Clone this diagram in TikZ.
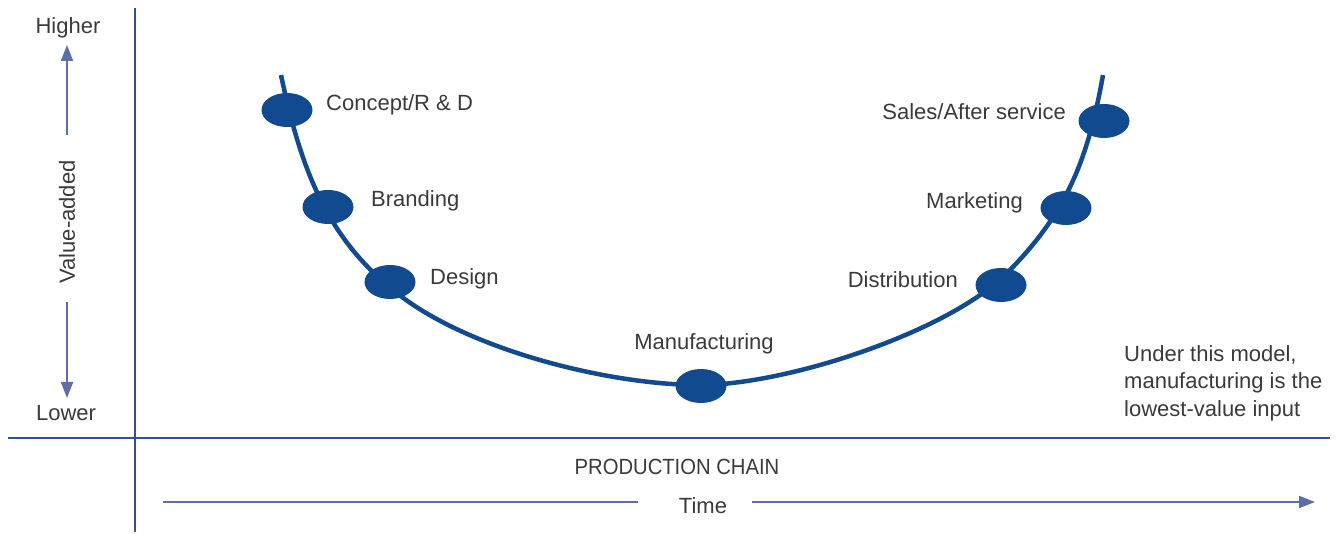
\documentclass[tikz,border=0pt]{standalone}
\usepackage{fontspec}
\setmainfont{Liberation Sans}
\usetikzlibrary{shapes.geometric,arrows.meta}
\definecolor{axisblue}{HTML}{2A5396}
\definecolor{curveblue}{HTML}{124A8F}
\definecolor{arrowblue}{HTML}{5C6FA6}
\definecolor{labelgray}{HTML}{3A3A3A}
\begin{document}
\begin{tikzpicture}[x=1pt,y=-1pt,
  axis/.style={draw=axisblue,line width=1.8pt},
  guide/.style={draw=arrowblue,line width=1.8pt},
  guidetip/.style={-{Triangle[length=16pt,width=12pt]}},
  stage/.style={ellipse,fill=curveblue,minimum width=51pt,minimum height=34pt,inner sep=0pt},
  lbl/.style={text=labelgray,inner sep=0pt,font=\fontsize{22}{27.5}\selectfont}]
\useasboundingbox (0,0) rectangle (1344,534);

% axes
\coordinate (vtop) at (135,8);
\coordinate (vbot) at (135,532);
\coordinate (hl) at (8,438);
\coordinate (hr) at (1330,438);
\draw[axis] (vtop) -- (vbot);
\draw[axis] (hl) -- (hr);

% value-added scale
\node[lbl] (hi) at (68,28) {Higher};
\node[lbl] (lo) at (66,413) {Lower};
\node[lbl,rotate=90] (va) at (67,222) {Value-added};
\coordinate (upstart) at (67,135);
\coordinate (uptip) at (67,45);
\coordinate (dnstart) at (67,302);
\coordinate (dntip) at (67,398);
\draw[guide,guidetip] (upstart) -- (uptip);
\draw[guide,guidetip] (dnstart) -- (dntip);

% the smile curve
\coordinate (cstart) at (281,75);
\coordinate (cleft) at (402,297);
\coordinate (cbottom) at (700,385);
\coordinate (cright) at (1007,273);
\coordinate (cend) at (1103,75);
\draw[curveblue,line width=4.5pt]
  (cstart) .. controls (302,175) and (330,243) .. (cleft)
           .. controls (474,351) and (610,385) .. (cbottom)
           .. controls (785,385) and (947,333) .. (cright)
           .. controls (1067,213) and (1088,159) .. (cend);

% stages along the curve
\node[stage] (rd) at (287,110) {};
\node[stage] (br) at (328,207) {};
\node[stage] (de) at (390,282) {};
\node[stage] (mf) at (701,386) {};
\node[stage] (di) at (1001,285) {};
\node[stage] (mk) at (1066,208) {};
\node[stage] (sa) at (1104,121) {};

% stage labels
\node[lbl,anchor=mid west] (rdl) at (326,108) {Concept/R \& D};
\node[lbl,anchor=mid west] (brl) at (371,204) {Branding};
\node[lbl,anchor=mid west] (del) at (430,282) {Design};
\node[lbl,anchor=mid] (mfl) at (704,347) {Manufacturing};
\node[lbl,anchor=mid east] (dil) at (958,285) {Distribution};
\node[lbl,anchor=mid east] (mkl) at (1023,206) {Marketing};
\node[lbl,anchor=mid east] (sal) at (1066,117) {Sales/After service};

% note
\node[lbl,anchor=north west,align=left] (note) at (1124,345)
  {Under this model,\\manufacturing is the\\lowest-value input};

% production chain axis
\node[lbl] (pc) at (677,467) {\scalebox{0.92}[1]{PRODUCTION CHAIN}};
\node[lbl] (time) at (703,506) {Time};
\coordinate (tl) at (163,502);
\coordinate (tlend) at (638,502);
\coordinate (trstart) at (752,502);
\coordinate (tr) at (1315,502);
\draw[guide] (tl) -- (tlend);
\draw[guide,guidetip] (trstart) -- (tr);
\end{tikzpicture}
\end{document}
